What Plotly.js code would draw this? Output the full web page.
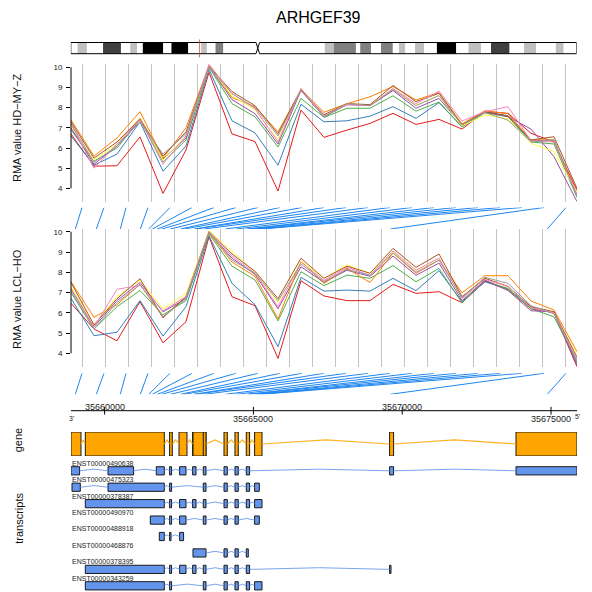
<!DOCTYPE html>
<html>
<head>
<meta charset="utf-8">
<script src="https://cdn.plot.ly/plotly-3.0.1.min.js"></script>
<style>
  html, body { margin: 0; padding: 0; background: #ffffff; }
  #plot { width: 592px; height: 592px; }
</style>
</head>
<body>
<div id="plot"></div>
<script>
// ---------------------------------------------------------------
// ARHGEF39 exon-array expression with gene model (chr9p13.3)
// ---------------------------------------------------------------

// probe order along the array track
const probeIndex = [1, 2, 3, 4, 5, 6, 7, 8, 9, 10, 11, 12, 13, 14, 15, 16, 17, 18, 19, 20, 21, 22, 23];

// genomic start of each probe (bp)
const probeGenomic = [35659016, 35659721, 35660528, 35661200, 35661485, 35661603, 35661771, 35661922,
  35662208, 35662544, 35662678, 35663014, 35663048, 35663350, 35664056, 35664425, 35664795,
  35664845, 35665064, 35665164, 35665265, 35669600, 35674875];

// sample colours (RColorBrewer Set1)
const sampleColors = ['#E41A1C', '#377EB8', '#4DAF4A', '#984EA3', '#FF7F00', '#FFFF33', '#A65628', '#F781BF', '#999999'];

// RMA values, HD-MY-Z
const hd_s1 = [6.70, 5.10, 5.12, 6.55, 3.75, 5.90, 9.75, 6.70, 6.32, 3.87, 7.88, 6.53, 6.89, 7.22, 7.72, 7.17, 7.42, 6.94, 7.82, 7.72, 6.73, 6.30, 3.90];
const hd_s2 = [6.60, 5.15, 5.70, 7.30, 4.85, 6.10, 9.90, 7.35, 6.75, 5.15, 8.17, 7.30, 7.35, 7.58, 8.05, 7.47, 8.25, 7.05, 7.80, 7.60, 6.35, 6.40, 3.60];
const hd_s3 = [6.90, 5.35, 6.00, 7.40, 5.30, 6.40, 10.00, 8.20, 7.55, 6.05, 8.46, 7.52, 7.97, 7.97, 8.59, 7.83, 8.28, 7.05, 7.75, 7.55, 6.30, 6.20, 3.55];
const hd_s4 = [7.00, 5.20, 6.10, 7.40, 5.45, 6.50, 10.05, 8.40, 7.70, 6.20, 8.85, 7.55, 8.15, 8.10, 8.85, 7.97, 8.46, 7.15, 7.80, 7.55, 6.94, 5.57, 3.34];
const hd_s5 = [7.40, 5.60, 6.50, 7.80, 5.50, 7.00, 10.10, 8.50, 8.05, 6.80, 8.90, 7.77, 8.20, 8.54, 9.05, 8.38, 8.75, 7.20, 7.85, 7.70, 6.40, 6.40, 3.70];
const hd_s6 = [7.10, 5.40, 6.20, 7.50, 5.40, 6.60, 10.05, 8.60, 7.90, 6.40, 8.95, 7.60, 8.20, 8.13, 8.95, 8.13, 8.60, 7.10, 7.64, 7.45, 6.23, 5.82, 3.80];
const hd_s7 = [7.30, 5.50, 6.30, 7.45, 5.60, 6.80, 10.05, 8.80, 8.10, 6.70, 8.90, 7.65, 8.20, 8.15, 9.10, 8.30, 8.71, 7.15, 7.80, 7.58, 6.40, 6.56, 4.00];
const hd_s8 = [7.20, 5.00, 6.20, 7.40, 5.20, 6.60, 10.15, 8.70, 7.95, 6.30, 8.95, 7.60, 8.15, 8.10, 8.95, 8.20, 8.82, 7.34, 7.80, 8.05, 6.35, 6.30, 3.70];
const hd_s9 = [7.20, 5.30, 6.10, 7.30, 5.70, 6.70, 10.00, 8.70, 8.00, 6.60, 8.85, 7.55, 8.20, 8.10, 8.90, 8.10, 8.60, 7.15, 7.75, 7.38, 6.30, 6.40, 3.60];

// RMA values, LCL-HO
const lcl_s1 = [6.47, 5.20, 4.62, 6.55, 4.52, 5.56, 9.75, 6.79, 6.35, 3.75, 7.58, 6.83, 6.60, 6.60, 7.40, 6.96, 7.04, 6.50, 7.55, 7.15, 6.20, 6.00, 3.34];
const lcl_s2 = [6.71, 4.87, 5.04, 6.60, 4.85, 6.30, 9.80, 7.45, 6.40, 4.33, 7.75, 7.07, 7.12, 7.07, 7.70, 7.09, 8.08, 6.55, 7.53, 7.20, 6.25, 6.00, 3.50];
const lcl_s3 = [7.00, 5.20, 6.30, 7.10, 5.90, 6.60, 9.90, 8.30, 7.62, 5.60, 8.03, 7.34, 7.86, 7.70, 8.33, 7.53, 8.19, 6.48, 7.60, 7.15, 6.20, 5.80, 3.60];
const lcl_s4 = [7.20, 5.30, 6.60, 7.50, 6.05, 6.70, 9.95, 8.70, 7.90, 6.20, 8.27, 7.50, 8.10, 7.80, 8.80, 7.85, 8.45, 6.60, 7.60, 7.10, 6.10, 6.05, 3.40];
const lcl_s5 = [7.53, 5.78, 6.40, 7.40, 5.78, 6.80, 9.95, 8.50, 7.80, 5.70, 8.55, 7.45, 8.20, 7.49, 8.95, 7.95, 8.60, 6.99, 7.83, 7.83, 6.58, 6.14, 4.08];
const lcl_s6 = [7.30, 5.40, 6.80, 7.60, 6.20, 6.95, 10.05, 9.00, 8.00, 6.50, 8.55, 7.70, 8.36, 7.95, 9.00, 8.10, 8.69, 6.75, 7.70, 7.25, 6.30, 6.00, 3.90];
const lcl_s7 = [7.50, 5.40, 6.70, 7.68, 5.75, 6.80, 10.00, 8.90, 8.05, 6.70, 8.69, 7.70, 8.30, 7.95, 9.18, 8.24, 8.90, 6.80, 7.70, 7.30, 6.30, 6.05, 3.80];
const lcl_s8 = [7.20, 5.30, 7.16, 7.35, 6.10, 6.80, 10.00, 8.80, 7.95, 6.30, 8.50, 7.60, 8.25, 7.85, 9.05, 8.10, 8.70, 6.70, 7.65, 7.30, 6.25, 6.00, 3.70];
const lcl_s9 = [7.10, 5.20, 6.50, 7.40, 5.80, 6.70, 10.00, 8.60, 7.95, 6.60, 8.40, 7.55, 8.15, 7.85, 8.95, 8.00, 8.60, 6.75, 7.75, 7.45, 6.35, 5.95, 3.60];

const hdSeries = [hd_s1, hd_s2, hd_s3, hd_s4, hd_s5, hd_s6, hd_s7, hd_s8, hd_s9];
const lclSeries = [lcl_s1, lcl_s2, lcl_s3, lcl_s4, lcl_s5, lcl_s6, lcl_s7, lcl_s8, lcl_s9];
const yTicks = [4, 5, 6, 7, 8, 9, 10];

// gene region (bp)
const geneStart = 35658871;
const geneEnd = 35675873;
const geneName = 'ARHGEF39';

const geneExonStart = [35658871, 35659352, 35662184, 35662500, 35662957, 35662970, 35663316, 35664012, 35664381, 35664761, 35665040, 35669576, 35673823];
const geneExonEnd   = [35659207, 35662006, 35662275, 35662769, 35663125, 35663407, 35663407, 35664123, 35664492, 35664872, 35665289, 35669710, 35675873];

// transcripts
const txNames = ['ENST00000490638', 'ENST00000475323', 'ENST00000378387', 'ENST00000490970',
  'ENST00000488918', 'ENST00000468876', 'ENST00000378395', 'ENST00000343259'];
const txExonStart = [
  [35658871, 35660114, 35661737, 35662184, 35662520, 35662957, 35663316, 35664012, 35664381, 35664761, 35669576, 35673823],
  [35658905, 35660114, 35662184, 35663316, 35664012, 35664381, 35664761, 35665040],
  [35659352, 35662184, 35662520, 35662957, 35663316, 35664012, 35664381, 35664761, 35665040],
  [35661536, 35662184, 35662520, 35663316, 35664012, 35664381, 35665040],
  [35661838, 35662184, 35662520],
  [35662970, 35664012, 35664381, 35664761],
  [35659352, 35662184, 35662520, 35662957, 35663316, 35664012, 35664381, 35664761, 35669576],
  [35659352, 35662184, 35663316, 35664012, 35664381, 35664761, 35665040]
];
const txExonEnd = [
  [35659160, 35660974, 35662006, 35662251, 35662735, 35663071, 35663407, 35664123, 35664492, 35664872, 35669710, 35675873],
  [35659184, 35662006, 35662251, 35663407, 35664123, 35664492, 35664872, 35665198],
  [35662006, 35662251, 35662735, 35663071, 35663407, 35664123, 35664492, 35664872, 35665289],
  [35662006, 35662251, 35662735, 35663407, 35664123, 35664492, 35665198],
  [35662006, 35662231, 35662654],
  [35663407, 35664123, 35664492, 35664828],
  [35662006, 35662251, 35662735, 35663071, 35663407, 35664123, 35664492, 35664872, 35669623],
  [35662006, 35662251, 35663407, 35664123, 35664492, 35664872, 35665289]
];

// genome ruler
const rulerTicks = [35660000, 35665000, 35670000, 35675000];
const rulerLabelAbove = [true, false, true, false];

// chromosome 9 ideogram (Mb) and band fills
const chrLength = 141.2;
const centromereStart = 51.7;
const centromereEnd = 52.7;
const bandStart = [0, 1.9, 4.5, 9.0, 14.0, 16.6, 18.5, 20.1, 25.8, 28.1, 32.8, 36.4, 38.0, 40.4, 42.6,
  52.7, 70.9, 73.4, 79.6, 80.8, 83.8, 86.6, 89.9, 91.6, 93.4, 96.1, 98.6, 102.2, 107.6, 111.0, 114.5, 117.3, 122.5, 126.5, 129.9, 135.4, 137.6];
const bandEnd = [1.9, 4.5, 9.0, 14.0, 16.6, 18.5, 20.1, 25.8, 28.1, 32.8, 36.4, 38.0, 40.4, 42.6, 51.7,
  70.9, 73.4, 79.6, 80.8, 83.8, 86.6, 89.9, 91.6, 93.4, 96.1, 98.6, 102.2, 107.6, 111.0, 114.5, 117.3, 122.5, 126.5, 129.9, 135.4, 137.6, 141.2];
const bandStain = ['gneg', 'gpos25', 'gneg', 'gpos75', 'gneg', 'gpos25', 'gneg', 'gpos100', 'gneg', 'gpos100', 'gneg', 'gpos25', 'gneg', 'gpos50', 'gneg',
  'gneg', 'gpos25', 'gpos50', 'gneg', 'gpos50', 'gneg', 'gpos50', 'gneg', 'gpos25', 'gneg', 'gpos25', 'gneg', 'gpos100', 'gneg', 'gpos25', 'gneg', 'gpos75', 'gneg', 'gpos25', 'gneg', 'gpos25', 'gneg'];
const stainColor = { gneg: '#FFFFFF', gpos25: '#C0C0C0', gpos50: '#808080', gpos75: '#404040', gpos100: '#000000' };
const geneLocusMb = 35.95;

// ---------------------------------------------------------------
const W = 592, H = 592;
const FONT = 'Liberation Sans, Arial, Helvetica, sans-serif';
const yDom = (topPx, botPx) => [1 - botPx / H, 1 - topPx / H];
const trackDomain = [71 / W, 577 / W];

const traces = [];

// expression lines
function addExpression(seriesList, yaxis) {
  seriesList.forEach((vals, k) => {
    traces.push({
      type: 'scatter', mode: 'lines', x: probeIndex, y: vals,
      xaxis: 'x', yaxis: yaxis,
      line: { color: sampleColors[k], width: 1 },
      hoverinfo: 'skip', showlegend: false
    });
  });
}
addExpression(hdSeries, 'y');
addExpression(lclSeries, 'y2');

// probe-to-genome connectors
function addConnectors(yaxis) {
  const xs = [], ys = [];
  const n = probeGenomic.length;
  probeGenomic.forEach((g, i) => {
    const slot = geneStart + (i + 0.5) / n * (geneEnd - geneStart);
    xs.push(slot, g, null);
    ys.push(1, 0, null);
  });
  traces.push({
    type: 'scatter', mode: 'lines', x: xs, y: ys, xaxis: 'x2', yaxis: yaxis,
    line: { color: '#1E86F0', width: 1 }, hoverinfo: 'skip', showlegend: false
  });
}
addConnectors('y3');
addConnectors('y4');

// ruler line and ticks
traces.push({
  type: 'scatter', mode: 'lines', x: [geneStart, geneEnd], y: [0, 0], xaxis: 'x2', yaxis: 'y5',
  line: { color: '#000000', width: 1 }, hoverinfo: 'skip', showlegend: false
});
(function () {
  const xs = [], ys = [];
  rulerTicks.forEach(t => { xs.push(t, t, null); ys.push(-0.5, 0.5, null); });
  traces.push({
    type: 'scatter', mode: 'lines', x: xs, y: ys, xaxis: 'x2', yaxis: 'y5',
    line: { color: '#000000', width: 1 }, hoverinfo: 'skip', showlegend: false
  });
})();

// merge overlapping blocks to find introns
function introns(starts, ends) {
  const idx = starts.map((s, i) => i).sort((a, b) => starts[a] - starts[b]);
  const blocks = [];
  idx.forEach(i => {
    const last = blocks[blocks.length - 1];
    if (last && starts[i] <= last[1]) last[1] = Math.max(last[1], ends[i]);
    else blocks.push([starts[i], ends[i]]);
  });
  const out = [];
  for (let j = 0; j + 1 < blocks.length; j++) out.push([blocks[j][1], blocks[j + 1][0]]);
  return out;
}

// gene track: introns then exons
(function () {
  const xs = [], ys = [];
  introns(geneExonStart, geneExonEnd).forEach(([a, b]) => {
    xs.push(a, (a + b) / 2, b, null);
    ys.push(0.5, 0.67, 0.5, null);
  });
  traces.push({
    type: 'scatter', mode: 'lines', x: xs, y: ys, xaxis: 'x2', yaxis: 'y6',
    line: { color: '#FFA500', width: 1.2 }, opacity: 0.85, hoverinfo: 'skip', showlegend: false
  });
  traces.push({
    type: 'bar', orientation: 'h',
    base: geneExonStart, x: geneExonEnd.map((e, i) => e - geneExonStart[i]),
    y: geneExonStart.map(() => 0.5), width: 1,
    xaxis: 'x2', yaxis: 'y6',
    marker: { color: '#FFA500', line: { color: '#1a1a1a', width: 1 } },
    hoverinfo: 'skip', showlegend: false
  });
})();

// transcript track
(function () {
  const xs = [], ys = [];
  const bs = [], bl = [], by = [];
  txNames.forEach((name, r) => {
    const row = r + 1;
    introns(txExonStart[r], txExonEnd[r]).forEach(([a, b]) => {
      xs.push(a, (a + b) / 2, b, null);
      ys.push(row, row - 0.1, row, null);
    });
    txExonStart[r].forEach((s, j) => {
      bs.push(s); bl.push(txExonEnd[r][j] - s); by.push(row);
    });
  });
  traces.push({
    type: 'scatter', mode: 'lines', x: xs, y: ys, xaxis: 'x2', yaxis: 'y7',
    line: { color: '#6495ED', width: 1 }, opacity: 0.85, hoverinfo: 'skip', showlegend: false
  });
  traces.push({
    type: 'bar', orientation: 'h', base: bs, x: bl, y: by, width: 0.5,
    xaxis: 'x2', yaxis: 'y7',
    marker: { color: '#6495ED', line: { color: '#1a1a1a', width: 1 } },
    hoverinfo: 'skip', showlegend: false
  });
})();

// ideogram bands, outline and locus marker
traces.push({
  type: 'bar', orientation: 'h', base: bandStart, x: bandEnd.map((e, i) => e - bandStart[i]),
  y: bandStart.map(() => 0), width: 1, xaxis: 'x3', yaxis: 'y8',
  marker: { color: bandStain.map(s => stainColor[s]), line: { width: 0 } },
  hoverinfo: 'skip', showlegend: false
});
(function () {
  const cMid = (centromereStart + centromereEnd) / 2;
  traces.push({
    type: 'scatter', mode: 'lines',
    x: [centromereStart, 0, 0, centromereStart, cMid, centromereStart, null,
        centromereEnd, chrLength, chrLength, centromereEnd, cMid, centromereEnd],
    y: [0.5, 0.5, -0.5, -0.5, 0, 0.5, null, 0.5, 0.5, -0.5, -0.5, 0, 0.5],
    xaxis: 'x3', yaxis: 'y8', line: { color: '#000000', width: 1 },
    hoverinfo: 'skip', showlegend: false
  });
  traces.push({
    type: 'scatter', mode: 'lines', x: [geneLocusMb, geneLocusMb], y: [-0.85, 0.77],
    xaxis: 'x3', yaxis: 'y8', line: { color: 'rgba(200,60,60,0.75)', width: 1 },
    hoverinfo: 'skip', showlegend: false
  });
})();

// ---------------------------------------------------------------
const hidden = { visible: true, showgrid: false, zeroline: false, showline: false, ticks: '', showticklabels: false, fixedrange: true };

function dataYAxis(domain, range) {
  return {
    domain: domain, range: range, anchor: 'x', showgrid: false, zeroline: false, showline: false,
    ticks: 'outside', ticklen: 4, tickwidth: 1, tickcolor: '#000000',
    tickvals: yTicks, ticktext: yTicks.map(String), ticklabelstandoff: 2,
    tickfont: { family: FONT, size: 8, color: '#222222' }, fixedrange: true
  };
}

const gridVals = [1.5, 2.5, 3.5, 4.5, 5.5, 6.5, 7.5, 8.5, 9.5, 10.5, 11.5, 12.5, 13.5, 14.5, 15.5, 16.5, 17.5, 18.5, 19.5, 20.5, 21.5, 22.5, 23];

const layout = {
  width: W, height: H,
  margin: { l: 0, r: 0, t: 0, b: 0, pad: 0 },
  paper_bgcolor: '#ffffff', plot_bgcolor: 'rgba(0,0,0,0)',
  showlegend: false,
  font: { family: FONT, color: '#222222' },
  xaxis: {
    domain: trackDomain, range: [1, 23], anchor: 'y',
    showgrid: true, gridcolor: '#C4C4C4', gridwidth: 1.4,
    tickmode: 'array', tickvals: gridVals, ticks: '', showticklabels: false,
    zeroline: false, showline: false, fixedrange: true
  },
  xaxis2: Object.assign({}, hidden, { domain: trackDomain, range: [geneStart, geneEnd], anchor: 'y5' }),
  xaxis3: Object.assign({}, hidden, { domain: [70.8 / W, 576.6 / W], range: [0, chrLength], anchor: 'y8' }),
  yaxis: dataYAxis(yDom(64.3, 201.7), [3.34, 10.15]),
  yaxis2: dataYAxis(yDom(229.3, 366.7), [3.34, 10.12]),
  yaxis3: Object.assign({}, hidden, { domain: yDom(207.5, 229.0), range: [0, 1], anchor: 'x2' }),
  yaxis4: Object.assign({}, hidden, { domain: yDom(373.3, 394.3), range: [0, 1], anchor: 'x2' }),
  yaxis5: Object.assign({}, hidden, { domain: yDom(403.0, 418.4), range: [-1, 1], anchor: 'x2' }),
  yaxis6: Object.assign({}, hidden, { domain: yDom(432.0, 456.0), range: [0, 1], anchor: 'x2' }),
  yaxis7: Object.assign({}, hidden, { domain: yDom(459.3, 591.55), range: [8.35, 0.3], anchor: 'x2' }),
  yaxis8: Object.assign({}, hidden, { domain: yDom(38.6, 57.6), range: [-0.85, 0.85], anchor: 'x3' }),
  shapes: [
    { type: 'line', xref: 'x domain', yref: 'y', x0: 0, x1: 0, y0: 4, y1: 10, line: { color: '#000000', width: 1 } },
    { type: 'line', xref: 'x domain', yref: 'y2', x0: 0, x1: 0, y0: 4, y1: 10, line: { color: '#000000', width: 1 } }
  ],
  annotations: []
};

const ann = layout.annotations;
ann.push({ text: geneName, xref: 'paper', yref: 'paper', x: 318.5 / W, y: 1 - 17 / H, xanchor: 'center', yanchor: 'middle',
  showarrow: false, font: { family: FONT, size: 16, color: '#000000' } });
ann.push({ text: 'RMA value HD\u2212MY\u2212Z', xref: 'paper', yref: 'paper', x: 17 / W, y: 1 - 128 / H, textangle: -90,
  xanchor: 'center', yanchor: 'middle', showarrow: false, font: { family: FONT, size: 11, color: '#111111' } });
ann.push({ text: 'RMA value LCL\u2212HO', xref: 'paper', yref: 'paper', x: 17 / W, y: 1 - 299 / H, textangle: -90,
  xanchor: 'center', yanchor: 'middle', showarrow: false, font: { family: FONT, size: 11, color: '#111111' } });
ann.push({ text: 'gene', xref: 'paper', yref: 'paper', x: 18.3 / W, y: 1 - 440 / H, textangle: -90,
  xanchor: 'center', yanchor: 'middle', showarrow: false, font: { family: FONT, size: 11, color: '#111111' } });
ann.push({ text: 'transcripts', xref: 'paper', yref: 'paper', x: 18.3 / W, y: 1 - 518.5 / H, textangle: -90,
  xanchor: 'center', yanchor: 'middle', showarrow: false, font: { family: FONT, size: 11, color: '#111111' } });

rulerTicks.forEach((t, i) => {
  ann.push({ text: String(t), xref: 'x2', yref: 'y5', x: t, y: 0, xanchor: 'center', yanchor: 'middle',
    yshift: rulerLabelAbove[i] ? 4 : -8.5, showarrow: false, font: { family: FONT, size: 9, color: '#222222' } });
});
ann.push({ text: "3'", xref: 'x2', yref: 'y5', x: geneStart, y: 0, xanchor: 'center', yanchor: 'middle', yshift: -7.5,
  showarrow: false, font: { family: FONT, size: 7, color: '#222222' } });
ann.push({ text: "5'", xref: 'x2', yref: 'y5', x: geneEnd, y: 0, xanchor: 'center', yanchor: 'middle', yshift: -5.5,
  showarrow: false, font: { family: FONT, size: 7, color: '#222222' } });

txNames.forEach((name, r) => {
  ann.push({ text: name, xref: 'x2', yref: 'y7', x: geneStart, y: r + 1 - 0.46, xanchor: 'left', yanchor: 'middle',
    xshift: -1, showarrow: false, font: { family: FONT, size: 7, color: '#222222' } });
});

Plotly.newPlot('plot', traces, layout, { staticPlot: true, displayModeBar: false });
</script>
</body>
</html>
